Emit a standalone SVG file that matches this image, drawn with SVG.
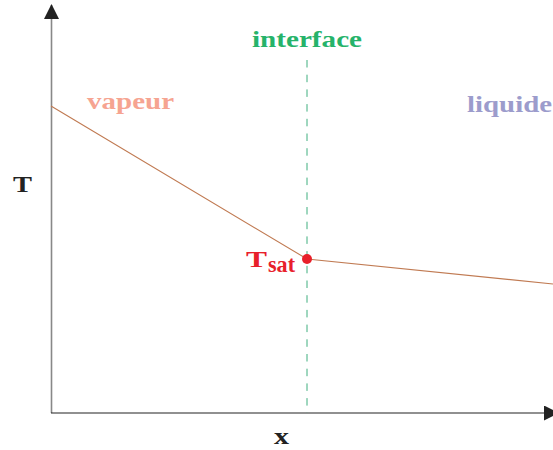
<svg xmlns="http://www.w3.org/2000/svg" width="553" height="450" viewBox="0 0 553 450">
<style>
text{font-family:"Liberation Serif","DejaVu Serif",serif;font-weight:bold;font-size:24px}
.ax{fill:#222}
</style>
<defs>
<marker id="ahv" viewBox="0 0 15 15" refX="14" refY="7.5" markerWidth="15" markerHeight="15" markerUnits="userSpaceOnUse" orient="auto">
<path d="M0,0 L15,7.5 L0,15 Z" fill="#222"/>
</marker>
</defs>
<rect width="553" height="450" fill="#fff"/>
<g id="connectors">
<line x1="51.5" y1="413" x2="51.5" y2="5" stroke="#888" stroke-width="1.6" marker-end="url(#ahv)"/>
<line x1="51" y1="413" x2="558" y2="413" stroke="#222" stroke-width="1.2" marker-end="url(#ahv)"/>
<line x1="307" y1="60" x2="307" y2="413" stroke="#3fae7e" stroke-width="1" stroke-dasharray="7.5,7.2"/>
<polyline points="51,106 307,259 553,284" fill="none" stroke="#c07a52" stroke-width="1.1"/>
</g>
<g id="interface"><text x="307" y="47" text-anchor="middle" fill="#26b36a" textLength="110" lengthAdjust="spacingAndGlyphs">interface</text></g>
<g id="vapeur"><text x="87" y="109" fill="#f6a491" textLength="87" lengthAdjust="spacingAndGlyphs">vapeur</text></g>
<g id="liquide"><text x="467" y="112" fill="#9c9ccc" textLength="85" lengthAdjust="spacingAndGlyphs">liquide</text></g>
<g id="T"><text x="13" y="192" class="ax" font-size="25" textLength="19" lengthAdjust="spacingAndGlyphs">T</text></g>
<g id="x"><text x="274" y="444" class="ax" font-size="25" textLength="15" lengthAdjust="spacingAndGlyphs">x</text></g>
<g id="Tsat">
<circle cx="307" cy="259" r="5" fill="#e8202a"/>
<text x="246" y="267" fill="#e8202a" font-size="26" textLength="21" lengthAdjust="spacingAndGlyphs">T</text>
<text x="268" y="272" fill="#e8202a" font-size="18" textLength="27" lengthAdjust="spacingAndGlyphs">sat</text>
</g>
</svg>
